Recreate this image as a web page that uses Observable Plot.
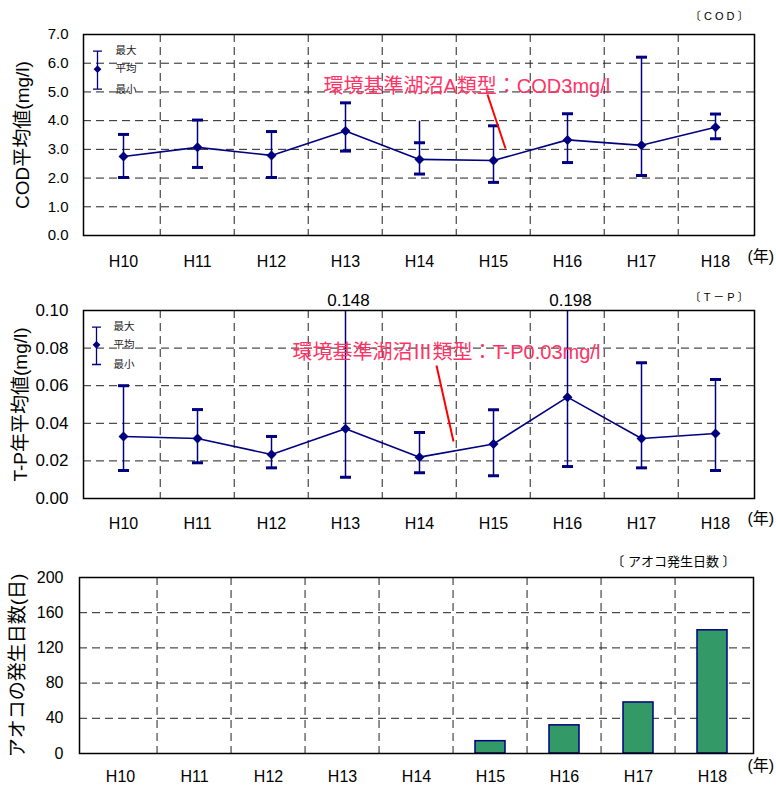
<!DOCTYPE html>
<html><head><meta charset="utf-8">
<script src="https://cdn.jsdelivr.net/npm/d3@7"></script>
<script src="https://cdn.jsdelivr.net/npm/@observablehq/plot@0.6"></script>
<style>
body{margin:0;background:#fff;}
#root{position:relative;width:776px;height:789px;overflow:hidden;background:#fff;}
#root > svg{position:absolute;left:0;}
</style></head><body><div id="root"></div>
<script>
// ---- data ----
const years = ["H10","H11","H12","H13","H14","H15","H16","H17","H18"];

const codMean = [2.75, 3.07, 2.79, 3.64, 2.65, 2.61, 3.33, 3.14, 3.77];
const codMax  = [3.52, 4.02, 3.62, 4.62, 3.23, 3.82, 4.24, 6.21, 4.23];
const codMin  = [2.02, 2.37, 2.02, 2.94, 2.14, 1.85, 2.54, 2.09, 3.37];
const codWhiskerTop = [3.52, 4.02, 3.62, 4.62, 3.98, 3.82, 4.24, 6.21, 4.23];
const codStandard = 3;
const codTicks = [0, 1, 2, 3, 4, 5, 6, 7];

const tpMean = [0.033, 0.0319, 0.0234, 0.0371, 0.022, 0.029, 0.0539, 0.0319, 0.0346];
const tpMax  = [0.060, 0.0473, 0.033, 0.148, 0.0351, 0.0472, 0.198, 0.0722, 0.0633];
const tpMin  = [0.0149, 0.019, 0.0163, 0.0113, 0.0137, 0.0121, 0.017, 0.0163, 0.0149];
const tpStandard = 0.03;
const tpTicks = [0, 0.02, 0.04, 0.06, 0.08, 0.10];

const aokoDays = [0, 0, 0, 0, 0, 14, 32, 58, 140];
const aokoTicks = [0, 40, 80, 120, 160, 200];

const codLabel = "COD平均値(mg/l)";
const tpLabel = "T-P年平均値(mg/l)";
const aokoLabel = "アオコの発生日数(日)";
const codTitle = "〔 C O D 〕";
const tpTitle = "〔 T － P 〕";
const aokoTitle = "〔 アオコ発生日数 〕";
const codNote = "環境基準湖沼A類型：COD3mg/l";
const tpNote = "環境基準湖沼Ⅲ類型：T-P0.03mg/l";
const yearUnit = "(年)";
const legendLabels = ["最大", "平均", "最小"];

// ---- styling helpers ----
const W = 776;
const navy = "#000080";
const FONT = '"Liberation Sans","Noto Sans CJK JP",sans-serif';
const style = {fontFamily: FONT, background: "none", overflow: "visible", color: "#000"};
const dash = {stroke: "#222", strokeOpacity: 1, strokeWidth: 1, strokeDasharray: "8,5"};

const capSymbol = {draw(ctx, size) { const r = Math.sqrt(size / Math.PI); ctx.moveTo(-r, 0); ctx.lineTo(r, 0); }};
function whiskerSymbol(top, bottom, w) {
  return {draw(ctx) {
    ctx.moveTo(-w, top); ctx.lineTo(w, top);
    ctx.moveTo(0, top); ctx.lineTo(0, bottom);
    ctx.moveTo(-w, bottom); ctx.lineTo(w, bottom);
  }};
}
function segSymbol(dxv, dyv) { return {draw(ctx) { ctx.moveTo(0, 0); ctx.lineTo(dxv, dyv); }}; }

function label(text, frameAnchor, dx, dy, opts = {}) {
  return Plot.text([text], {frameAnchor, dx, dy, lineAnchor: "middle", ...opts});
}

function legendMarks(dx, dy, top, bottom, labelDx, labelDys) {
  return [
    Plot.dot([0], {frameAnchor: "top-left", dx, dy, symbol: whiskerSymbol(top, bottom, 4.5), r: 5, stroke: navy, strokeWidth: 1.3, fill: "none"}),
    Plot.dot([0], {frameAnchor: "top-left", dx, dy, symbol: "diamond2", r: 3.5, fill: navy, stroke: "none"}),
    ...legendLabels.map((t, i) => label(t, "top-left", labelDx, labelDys[i], {textAnchor: "start", fontSize: 10.5, fill: "#222"}))
  ];
}

function errorMarks(data, clipTop) {
  const caps = [];
  data.forEach(d => {
    if (clipTop == null || d.max <= clipTop) caps.push({year: d.year, v: d.max});
    caps.push({year: d.year, v: d.min});
  });
  return [
    Plot.ruleX(data, {x: "year", y1: "min", y2: d => clipTop == null ? d.top : Math.min(d.top, clipTop), stroke: navy, strokeWidth: 1.5}),
    Plot.dot(caps, {x: "year", y: "v", symbol: capSymbol, r: 5.5, stroke: navy, strokeWidth: 3, fill: "none"}),
    Plot.line(data, {x: "year", y: "mean", stroke: navy, strokeWidth: 1.6}),
    Plot.dot(data, {x: "year", y: "mean", symbol: "diamond2", r: 4.5, fill: navy, stroke: "none"})
  ];
}

const root = document.getElementById("root");

// ---- chart 1: COD ----
{
  const mL = 83, mR = 22;
  const step = (W - mL - mR) / years.length;
  const data = years.map((year, i) => ({year, mean: codMean[i], max: codMax[i], min: codMin[i], top: codWhiskerTop[i]}));
  const svg = Plot.plot({
    width: W, height: 282, marginTop: 34, marginBottom: 47, marginLeft: mL, marginRight: mR,
    style,
    x: {type: "point", domain: years, padding: 0.5},
    y: {domain: [0, 7]},
    marks: [
      Plot.ruleY(codTicks.slice(1, -1), dash),
      Plot.ruleX(years.slice(1), {dx: -step / 2, ...dash}),
      Plot.axisY(codTicks, {tickSize: 0, tickPadding: 15, tickFormat: d => d.toFixed(1), fontSize: 15, label: null}),
      Plot.axisX({tickSize: 0, tickPadding: 20, fontSize: 16, label: null}),
      label(codLabel, "left", -61, 0, {rotate: -90, textAnchor: "middle", fontSize: 19}),
      Plot.ruleY([codStandard], {x1: years[0], x2: years[years.length - 1], stroke: "#ff0000", strokeWidth: 4}),
      ...errorMarks(data, null),
      label(codNote, "top-left", 240, 52, {textAnchor: "start", fontSize: 20, fill: "#ff3366"}),
      Plot.dot([0], {frameAnchor: "top-left", dx: 404, dy: 60, symbol: segSymbol(18, 54), r: 5, stroke: "#ff0000", strokeWidth: 2, fill: "none"}),
      ...legendMarks(14, 34.7, -18, 20, 32, [16, 34.5, 55]),
      label(codTitle, "top-right", -6, -18, {textAnchor: "end", fontSize: 11}),
      label(yearUnit, "bottom-right", -7, 21, {textAnchor: "start", fontSize: 16}),
      Plot.frame({stroke: "#000", strokeWidth: 1.5})
    ]
  });
  svg.style.top = "0px";
  root.appendChild(svg);
}

// ---- chart 2: T-P ----
{
  const mL = 83, mR = 22;
  const step = (W - mL - mR) / years.length;
  const data = years.map((year, i) => ({year, mean: tpMean[i], max: tpMax[i], min: tpMin[i], top: tpMax[i]}));
  const svg = Plot.plot({
    width: W, height: 264, marginTop: 34, marginBottom: 42, marginLeft: mL, marginRight: mR,
    style,
    x: {type: "point", domain: years, padding: 0.5},
    y: {domain: [0, 0.1]},
    marks: [
      Plot.ruleY(tpTicks.slice(1, -1), dash),
      Plot.ruleX(years.slice(1), {dx: -step / 2, ...dash}),
      Plot.axisY(tpTicks, {tickSize: 0, tickPadding: 15, tickFormat: d => d.toFixed(2), fontSize: 17, label: null}),
      Plot.axisX({tickSize: 0, tickPadding: 19, fontSize: 16, label: null}),
      label(tpLabel, "left", -63, 0, {rotate: -90, textAnchor: "middle", fontSize: 19}),
      Plot.ruleY([tpStandard], {x1: years[0], x2: years[years.length - 1], stroke: "#ff0000", strokeWidth: 4}),
      ...errorMarks(data, 0.1),
      Plot.text(data.filter(d => d.max > 0.1), {x: "year", text: d => String(d.max), frameAnchor: "top", lineAnchor: "middle", dy: -10, dx: 3, fontSize: 17}),
      label(tpNote, "top-left", 209, 42, {textAnchor: "start", fontSize: 20, fill: "#ff3366"}),
      Plot.dot([0], {frameAnchor: "top-left", dx: 353, dy: 55, symbol: segSymbol(17, 76), r: 5, stroke: "#ff0000", strokeWidth: 2, fill: "none"}),
      ...legendMarks(13, 34.3, -17.6, 19.7, 30, [16, 34, 54]),
      label(tpTitle, "top-right", -6, -13, {textAnchor: "end", fontSize: 11}),
      label(yearUnit, "bottom-right", -7, 20, {textAnchor: "start", fontSize: 16}),
      Plot.frame({stroke: "#000", strokeWidth: 1.5})
    ]
  });
  svg.style.top = "276px";
  root.appendChild(svg);
}

// ---- chart 3: アオコ発生日数 ----
{
  const mL = 79, mR = 23;
  const step = (W - mL - mR) / years.length;
  const data = years.map((year, i) => ({year, days: aokoDays[i]}));
  const svg = Plot.plot({
    width: W, height: 274, marginTop: 62, marginBottom: 36, marginLeft: mL, marginRight: mR,
    style,
    x: {type: "band", domain: years, padding: 0},
    y: {domain: [0, 200]},
    marks: [
      Plot.ruleY(aokoTicks.slice(1, -1), dash),
      Plot.ruleX(years.slice(1), {dx: -step / 2, ...dash}),
      Plot.axisY(aokoTicks, {tickSize: 0, tickPadding: 16, fontSize: 16, label: null}),
      Plot.axisX({tickSize: 0, tickPadding: 17, fontSize: 16, label: null}),
      label(aokoLabel, "left", -61.5, 0, {rotate: -90, textAnchor: "middle", fontSize: 19}),
      Plot.barY(data.filter(d => d.days > 0), {x: "year", y: "days", fill: "#339966", stroke: navy, strokeWidth: 1.5, insetLeft: 22, insetRight: 22}),
      label(aokoTitle, "top-right", -18, -16, {textAnchor: "end", fontSize: 13}),
      label(yearUnit, "bottom-right", -6, 12, {textAnchor: "start", fontSize: 16}),
      Plot.frame({stroke: "#000", strokeWidth: 1.5})
    ]
  });
  svg.style.top = "515px";
  root.appendChild(svg);
}
</script></body></html>
